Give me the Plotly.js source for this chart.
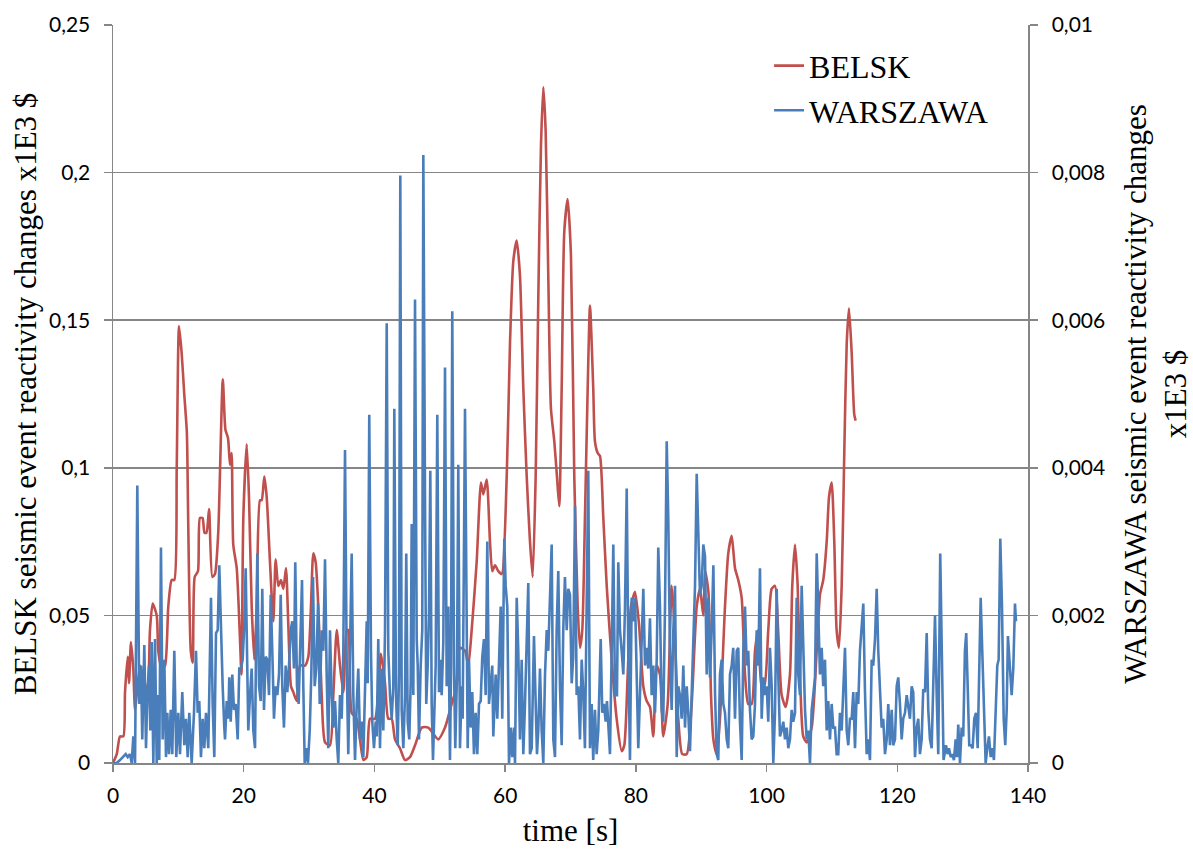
<!DOCTYPE html>
<html>
<head>
<meta charset="utf-8">
<script src="https://cdn.plot.ly/plotly-3.0.1.min.js"></script>
<style>
  html, body { margin: 0; padding: 0; background: #ffffff; }
  #chart { width: 1193px; height: 854px; }
</style>
</head>
<body>
<div id="chart"></div>
<script>
// ---- Data ----
const seriesNames = ["BELSK", "WARSZAWA"];

// BELSK (left axis)
const belskTime = [0,0.57,1.07,1.58,1.84,2.25,2.45,2.75,3.1,3.37,3.63,4.13,4.64,5.3,5.66,6.07,6.69,6.93,7.45,7.96,8.46,8.98,9.38,9.75,10.1,10.5,10.9,11.3,11.5,11.9,12.2,12.5,13.0,13.3,13.7,14.0,14.3,14.7,15.2,15.6,16.1,16.8,17.2,17.6,17.9,18.15,18.4,18.93,19.43,19.65,19.94,20.46,20.81,21.22,21.62,21.99,22.49,22.75,23.15,23.52,24.02,24.53,24.89,25.29,25.7,26.06,26.47,26.82,27.23,27.59,28.11,28.61,29.38,29.88,30.29,30.65,31.01,31.41,31.93,32.44,33.2,33.71,34.23,34.73,35.24,35.76,36.0,36.52,37.29,37.79,38.3,38.82,39.32,40.09,41.0,41.62,42.12,42.64,43.15,43.91,44.68,45.44,46.21,47.23,48.24,49.77,50.8,51.82,52.59,53.09,53.86,54.36,54.88,55.64,56.3,56.66,57.18,57.68,58.03,58.45,58.95,59.47,60.24,60.74,61.25,61.77,62.27,62.78,63.3,63.8,64.21,64.67,65.07,65.48,65.84,66.2,66.6,67.01,67.52,67.93,68.28,68.65,69.05,69.57,70.07,70.58,71.1,71.45,71.8,72.21,72.63,72.98,73.48,73.74,74.16,74.51,75.02,75.54,76.3,77.06,77.83,78.23,78.75,79.25,79.87,80.48,81.14,81.66,82.16,82.67,83.19,83.69,84.19,84.87,85.48,85.88,86.49,87.1,87.78,88.54,89.31,89.81,90.32,90.6,91.1,91.5,91.86,92.37,92.87,93.64,94.14,94.66,95.17,95.67,96.19,96.7,97.2,97.72,98.23,98.73,99.25,99.65,100.26,100.78,101.29,101.79,102.31,102.92,103.58,103.93,104.35,104.76,105.11,105.61,106.14,106.9,107.67,108.17,108.67,109.2,109.55,109.96,110.36,110.72,111.08,111.49,111.89,112.26,112.61,113.02,113.42,113.63];
const belskValue = [0,0.003,0.009,0.009,0.024,0.036,0.027,0.041,0.032,0.018,0.023,0.033,0.029,0.024,0.045,0.054,0.05,0.038,0.032,0.033,0.053,0.062,0.062,0.1,0.148,0.139,0.125,0.112,0.083,0.038,0.034,0.063,0.065,0.083,0.083,0.078,0.078,0.086,0.063,0.064,0.078,0.13,0.113,0.11,0.101,0.105,0.074,0.066,0.042,0.03,0.083,0.108,0.09,0.053,0.035,0.053,0.089,0.089,0.097,0.09,0.068,0.048,0.069,0.06,0.062,0.059,0.066,0.047,0.026,0.024,0.021,0.033,0.033,0.036,0.053,0.071,0.068,0.053,0.023,0.007,0.006,0.023,0.045,0.033,0.024,0.045,0.045,0.017,0.015,0.008,0.001,0.002,0.015,0.015,0.037,0.027,0.015,0.015,0.008,0.005,0.001,0.002,0.006,0.012,0.012,0.008,0.012,0.02,0.026,0.039,0.038,0.033,0.045,0.068,0.095,0.091,0.096,0.075,0.065,0.067,0.065,0.064,0.097,0.142,0.17,0.177,0.165,0.127,0.097,0.075,0.063,0.097,0.157,0.209,0.229,0.214,0.165,0.12,0.109,0.097,0.087,0.127,0.18,0.191,0.172,0.097,0.053,0.039,0.045,0.083,0.127,0.155,0.127,0.109,0.105,0.104,0.083,0.06,0.035,0.015,0.004,0.006,0.03,0.053,0.058,0.047,0.026,0.021,0.019,0.009,0.033,0.03,0.009,0.02,0.06,0.048,0.015,0.003,0.003,0.02,0.053,0.059,0.05,0.065,0.058,0.023,0.008,0.003,0.015,0.053,0.071,0.077,0.066,0.062,0.056,0.03,0.02,0.02,0.038,0.045,0.026,0.026,0.045,0.059,0.06,0.044,0.023,0.019,0.03,0.06,0.074,0.06,0.03,0.009,0.007,0.012,0.038,0.057,0.062,0.075,0.09,0.095,0.075,0.045,0.039,0.06,0.105,0.142,0.154,0.139,0.118,0.116];

// WARSZAWA (right axis)
const warszawaTime = [0,0.57,1.07,1.58,1.94,2.25,2.6,2.86,3.11,3.37,3.72,4.02,4.28,4.48,4.79,5.05,5.25,5.51,5.71,5.92,6.17,6.43,6.69,6.93,7.08,7.34,7.6,7.85,8.11,8.31,8.57,8.83,9.07,9.38,9.68,9.99,10.25,10.6,10.91,11.17,11.43,11.67,12.04,12.39,12.7,12.96,13.2,13.46,13.72,13.97,14.23,14.58,14.99,15.25,15.5,15.76,16.02,16.26,16.52,16.78,17.03,17.14,17.4,17.64,17.79,18.01,18.25,18.51,18.77,19.08,19.32,19.58,19.84,20.09,20.3,20.55,20.7,20.96,21.22,21.47,21.73,21.88,22.08,22.34,22.6,22.84,23.1,23.36,23.61,23.87,24.13,24.37,24.63,24.89,25.14,25.4,25.66,25.9,26.16,26.42,26.67,26.93,27.19,27.43,27.69,27.89,28.15,28.41,28.66,28.92,29.12,29.33,29.57,29.83,30.1,30.34,30.6,30.86,31.1,31.37,31.63,31.93,32.18,32.44,32.7,32.94,33.2,33.46,33.71,33.97,34.23,34.47,34.73,34.99,35.24,35.5,35.76,36.0,36.26,36.52,36.77,37.03,37.29,37.53,37.79,38.05,38.3,38.56,38.82,38.97,39.21,39.47,39.67,39.93,40.19,40.35,40.59,40.85,41.11,41.36,41.62,41.88,42.12,42.38,42.64,42.89,43.04,43.3,43.56,43.76,43.96,44.17,44.42,44.68,44.87,45.09,45.33,45.55,45.7,45.95,46.21,46.47,46.62,46.82,47.08,47.32,47.48,47.74,47.93,48.15,48.35,48.55,48.76,48.96,49.16,49.37,49.62,49.88,50.08,50.29,50.54,50.8,51.06,51.3,51.56,51.71,51.91,52.17,52.37,52.63,52.83,53.09,53.35,53.5,53.86,54.12,54.27,54.47,54.73,54.97,55.23,55.49,55.74,56.0,56.26,56.5,56.76,57.02,57.27,57.53,57.79,58.03,58.19,58.55,58.8,59.06,59.32,59.56,59.87,60.08,60.33,60.59,60.85,61.09,61.35,61.51,61.77,62.01,62.27,62.53,62.78,63.04,63.3,63.54,63.8,64.06,64.41,64.67,64.87,65.07,65.33,65.59,65.84,66.1,66.36,66.6,66.86,67.12,67.37,67.63,67.88,68.13,68.39,68.65,68.89,69.15,69.42,69.66,69.92,70.18,70.42,70.69,70.94,71.19,71.45,71.71,71.95,72.21,72.47,72.72,72.98,73.24,73.48,73.74,74.0,74.25,74.62,74.86,75.12,75.38,75.58,75.78,76.04,76.3,76.55,76.81,77.11,77.31,77.57,77.83,78.08,78.34,78.6,78.84,79.1,79.36,79.61,79.87,80.13,80.37,80.63,80.89,81.14,81.4,81.66,81.9,82.16,82.42,82.67,82.93,83.19,83.43,83.69,83.95,84.19,84.46,84.72,84.96,85.22,85.48,85.72,85.99,86.25,86.49,86.75,87.01,87.26,87.52,87.78,88.02,88.28,88.54,88.79,89.05,89.31,89.56,89.81,90.07,90.32,90.58,90.84,91.09,91.34,91.6,91.86,92.12,92.37,92.61,92.87,93.13,93.38,93.64,93.9,94.14,94.4,94.66,94.9,95.17,95.43,95.67,95.93,96.19,96.44,96.7,96.96,97.2,97.46,97.72,97.97,98.23,98.49,98.73,98.99,99.25,99.5,99.76,100.02,100.26,100.52,100.78,101.03,101.29,101.55,101.79,102.05,102.31,102.56,102.82,103.08,103.32,103.58,103.84,104.08,104.35,104.61,104.85,105.11,105.37,105.61,105.88,106.14,106.38,106.64,106.9,107.14,107.41,107.67,107.91,108.17,108.43,108.67,108.94,109.2,109.44,109.7,109.96,110.21,110.47,110.72,110.97,111.23,111.49,111.74,112.0,112.26,112.5,112.76,113.02,113.27,113.53,113.79,114.03,114.29,114.55,114.8,115.06,115.32,115.56,115.82,116.08,116.32,116.59,116.85,117.09,117.35,117.61,117.85,118.12,118.38,118.62,118.88,119.14,119.38,119.65,119.91,120.15,120.41,120.67,120.91,121.18,121.44,121.68,121.94,122.2,122.44,122.71,122.97,123.21,123.47,123.73,123.97,124.24,124.5,124.74,125.0,125.26,125.5,125.77,126.03,126.27,126.57,126.83,127.08,127.45,127.69,127.91,128.17,128.41,128.67,128.93,129.13,129.33,129.59,129.85,130.09,130.35,130.55,130.77,131.01,131.27,131.53,131.78,132.04,132.3,132.54,132.76,133.0,133.26,133.52,133.77,134.03,134.29,134.53,134.79,135.05,135.3,135.51,135.76,136.02,136.28,136.52,136.74,136.93,137.19,137.5,137.75,138.01,138.16];
const warszawaValue = [0,0,0.00004,0.00008,0.00012,0.00008,0.00012,0,0.00036,0,0.00376,0.0008,0.00132,0.00032,0.0016,0.0002,0.00092,0.00132,0.00044,0.00164,0,0.00168,0,0.00092,0.00004,0.00292,0.00032,0.0014,0.00008,0.00068,0.00012,0.00072,0.00012,0.00152,0.00008,0.00068,0.00012,0.00096,0.00024,0.0006,0.00008,0.00068,0,0.00068,0.00152,0.00068,0.00084,0.00008,0.0006,0.0002,0.00068,0.0002,0.00224,0.0008,0.00008,0.00176,0.0018,0.00268,0.00176,0.00104,0.00048,0.00032,0.00084,0.0006,0.00116,0.00056,0.0012,0.00072,0.0008,0.00032,0.00128,0.00128,0.0014,0.00188,0.00264,0.00116,0.00044,0.00092,0.00128,0.00044,0.0002,0.00152,0.00284,0.00104,0.00084,0.00236,0.00072,0.00144,0.0014,0.00092,0.00228,0.00152,0.0006,0.00104,0.00092,0.0012,0.00228,0.00104,0.00048,0.00132,0.00096,0.00132,0.0018,0.00192,0.00128,0.00272,0.00104,0.0008,0.00156,0.00248,0.00104,0,0.0002,0,0.00044,0.0012,0.00252,0.00104,0.00128,0.00216,0.0008,0.0018,0.00152,0.00276,0.00116,0.0002,0.0018,0.00092,0.00048,0.00084,0.00032,0,0.00092,0.0006,0.00152,0.00424,0.00132,0.00012,0.00152,0.00284,0.00092,0.00004,0.0008,0.00128,0.00032,0.00056,0.00008,0.00084,0.00192,0.00108,0.00472,0.00152,0.00056,0.0002,0.00056,0.00036,0.00168,0.0002,0.00128,0.00044,0.0018,0.00596,0.00152,0.00092,0.0006,0.00104,0.0048,0.00092,0.00024,0.0012,0.00796,0.00072,0.0002,0.00092,0.00284,0.00056,0.00032,0.00108,0.00324,0.00092,0.00628,0.00168,0.00132,0.00032,0.00132,0.0018,0.00824,0.00356,0.0008,0.00132,0.00204,0.00396,0.0008,0.00004,0.0008,0.00132,0.00472,0.00096,0.0014,0.00092,0.00164,0.00536,0.00104,0.00212,0.00004,0.0012,0.00612,0.00132,0.0002,0.0012,0.00404,0.0002,0.00104,0.0006,0.0048,0.00152,0.0002,0.0014,0.00048,0.00096,0.00012,0.00068,0.00012,0.0008,0.00084,0.00144,0.00168,0.00092,0.003,0.0008,0.00104,0.00132,0.00036,0.0012,0.0006,0.00128,0.00212,0.0006,0.00304,0.0024,0.00212,0,0.00048,0.00008,0.00048,0,0.00224,0.00152,0.00032,0.0014,0.00012,0.0008,0.00164,0.00244,0.00012,0.0002,0.00172,0.00092,0.00012,0.00044,0.00128,0.00044,0,0.0012,0.0018,0.00152,0.00212,0.00296,0.00032,0.00008,0.0018,0.0026,0.00104,0.00024,0.0018,0.00252,0.0018,0.00236,0.00228,0.00108,0.00144,0.00348,0.00092,0.00104,0.00032,0.0014,0.00096,0.0002,0.00212,0.00396,0.0002,0.0008,0.00004,0.00072,0.00012,0.00044,0.00168,0.00068,0.0008,0.00056,0.00084,0.00044,0.00012,0.00152,0.00296,0.00092,0.00092,0.00272,0.0018,0.00152,0.0012,0.00212,0.00372,0.00152,0.00004,0.00224,0.00192,0.00224,0.00132,0.0002,0.00092,0.00164,0.00236,0.00132,0.00156,0.00128,0.00196,0.00092,0.00132,0.00068,0.0014,0.00292,0.00212,0.00072,0.00056,0.00212,0.00436,0.00332,0.00152,0.00072,0.00176,0.0024,0.00008,0.00104,0.00092,0.0006,0.00132,0.00048,0.00104,0.00068,0.00016,0.00092,0.00152,0.0024,0.00392,0.003,0.00228,0.0024,0.00296,0.0028,0.0012,0.00224,0.00116,0.0018,0.00268,0.00092,0.00012,0.00004,0.0012,0.0014,0.0008,0.00068,0.00032,0.0002,0.0012,0.00132,0.00156,0.0006,0.00152,0.00156,0.00056,0.00004,0.00152,0.00212,0.00132,0.00152,0.00072,0.00032,0.00036,0.0008,0.0018,0.00132,0.00264,0.0006,0.00116,0.00092,0.00104,0.00056,0.00156,0.00104,0,0.00068,0.00236,0.0012,0.00036,0.00044,0.00056,0.00032,0.00048,0.0002,0.00032,0.00072,0.00056,0.00068,0.00224,0.0012,0.00092,0.0024,0.00152,0.00072,0.00032,0.00044,0,0.00072,0.00092,0.00116,0.00284,0.00212,0.0012,0.00156,0.00104,0.0014,0.00044,0.00084,0.00032,0.0008,0.00048,0.00048,0.00012,0.00012,0.00068,0.00044,0.00092,0.00156,0.00044,0.00024,0.0006,0.0006,0.00096,0.0002,0.00096,0.0008,0.00152,0.00192,0.00216,0.00096,0.00012,0.00032,0.00004,0.0014,0.00132,0.00168,0.00236,0.00152,0.00092,0.00048,0.0006,0.00012,0.00032,0.0008,0.00024,0.00072,0.00024,0.00032,0.00104,0.00116,0.0008,0.00032,0.0006,0.00068,0.00092,0.00072,0.0006,0.00104,0.00096,0.00008,0.00048,0.0006,0.00012,0.00032,0.001,0.00096,0.00176,0.00072,0.00032,0.0002,0.00092,0.002,0.00092,0.00012,0.00284,0.0016,0.00004,0.00024,0.00012,0.0002,0.00008,0.00012,0.00004,0.00032,0.00008,0.00052,0,0.00048,0.00036,0.00152,0.00176,0.00104,0.00024,0.00024,0.0002,0.0006,0.00068,0.0002,0.0012,0.00224,0.00152,0.0006,0,0.0002,0.00036,0.00008,0.0002,0.00004,0.0008,0.00132,0.0014,0.00304,0.00212,0.0006,0.00024,0.00072,0.00172,0.00132,0.00092,0.00128,0.00216,0.00192];

// Axis tick settings
const xTicks = [0, 20, 40, 60, 80, 100, 120, 140];
const leftTicks = [0, 0.05, 0.1, 0.15, 0.2, 0.25];
const rightTicks = [0, 0.002, 0.004, 0.006, 0.008, 0.01];

const GRID = "#868686";
const serif = "Liberation Serif, Times New Roman, serif";
const sans = "Lato, Open Sans, sans-serif";

const traces = [
  {
    x: belskTime, y: belskValue, name: seriesNames[0], type: "scatter", mode: "lines",
    line: { color: "#C0504D", width: 2.6, shape: "spline", smoothing: 0.6 },
    xaxis: "x", yaxis: "y"
  },
  {
    x: warszawaTime, y: warszawaValue, name: seriesNames[1], type: "scatter", mode: "lines",
    line: { color: "#4A7EBB", width: 2.6 },
    xaxis: "x", yaxis: "y2"
  }
];

const layout = {
  width: 1193, height: 854,
  margin: { l: 113, r: 165, t: 25, b: 91 },
  paper_bgcolor: "#ffffff", plot_bgcolor: "#ffffff",
  separators: ", ",
  showlegend: true,
  legend: {
    x: 0.717, y: 0.982, xanchor: "left", yanchor: "top",
    font: { family: serif, size: 32, color: "#000" },
    bgcolor: "rgba(0,0,0,0)", tracegroupgap: 0
  },
  xaxis: {
    range: [0, 140], tickvals: xTicks, ticks: "outside", ticklen: 7, tickcolor: GRID, tickwidth: 1.5,
    showline: true, linecolor: GRID, linewidth: 1.5, showgrid: false, zeroline: false,
    tickfont: { family: sans, size: 21, color: "#000" }, ticklabelstandoff: 6,
    title: { text: "time [s]", font: { family: serif, size: 31, color: "#000" }, standoff: 13 }
  },
  yaxis: {
    range: [0, 0.25], tickvals: leftTicks, ticks: "outside", ticklen: 8, tickcolor: GRID, tickwidth: 1.5,
    showline: true, linecolor: GRID, linewidth: 1.5, showgrid: true, gridcolor: GRID, gridwidth: 1.5,
    zeroline: false, tickfont: { family: sans, size: 21, color: "#000" }, ticklabelstandoff: 9,
    title: { text: "BELSK seismic event reactivity changes x1E3 $", font: { family: serif, size: 31, color: "#000" }, standoff: 3 }
  },
  yaxis2: {
    range: [0, 0.01], tickvals: rightTicks, overlaying: "y", side: "right", ticks: "outside", ticklen: 8,
    tickcolor: GRID, tickwidth: 1.5, showline: true, linecolor: GRID, linewidth: 1.5, showgrid: false,
    zeroline: false, tickfont: { family: sans, size: 21, color: "#000" }, ticklabelstandoff: 10,
    title: { text: "WARSZAWA seismic event reactivity changes<br>x1E3 $", font: { family: serif, size: 31, color: "#000" }, standoff: 20 }
  }
};

Plotly.newPlot("chart", traces, layout, { displayModeBar: false, staticPlot: true });
</script>
</body>
</html>
